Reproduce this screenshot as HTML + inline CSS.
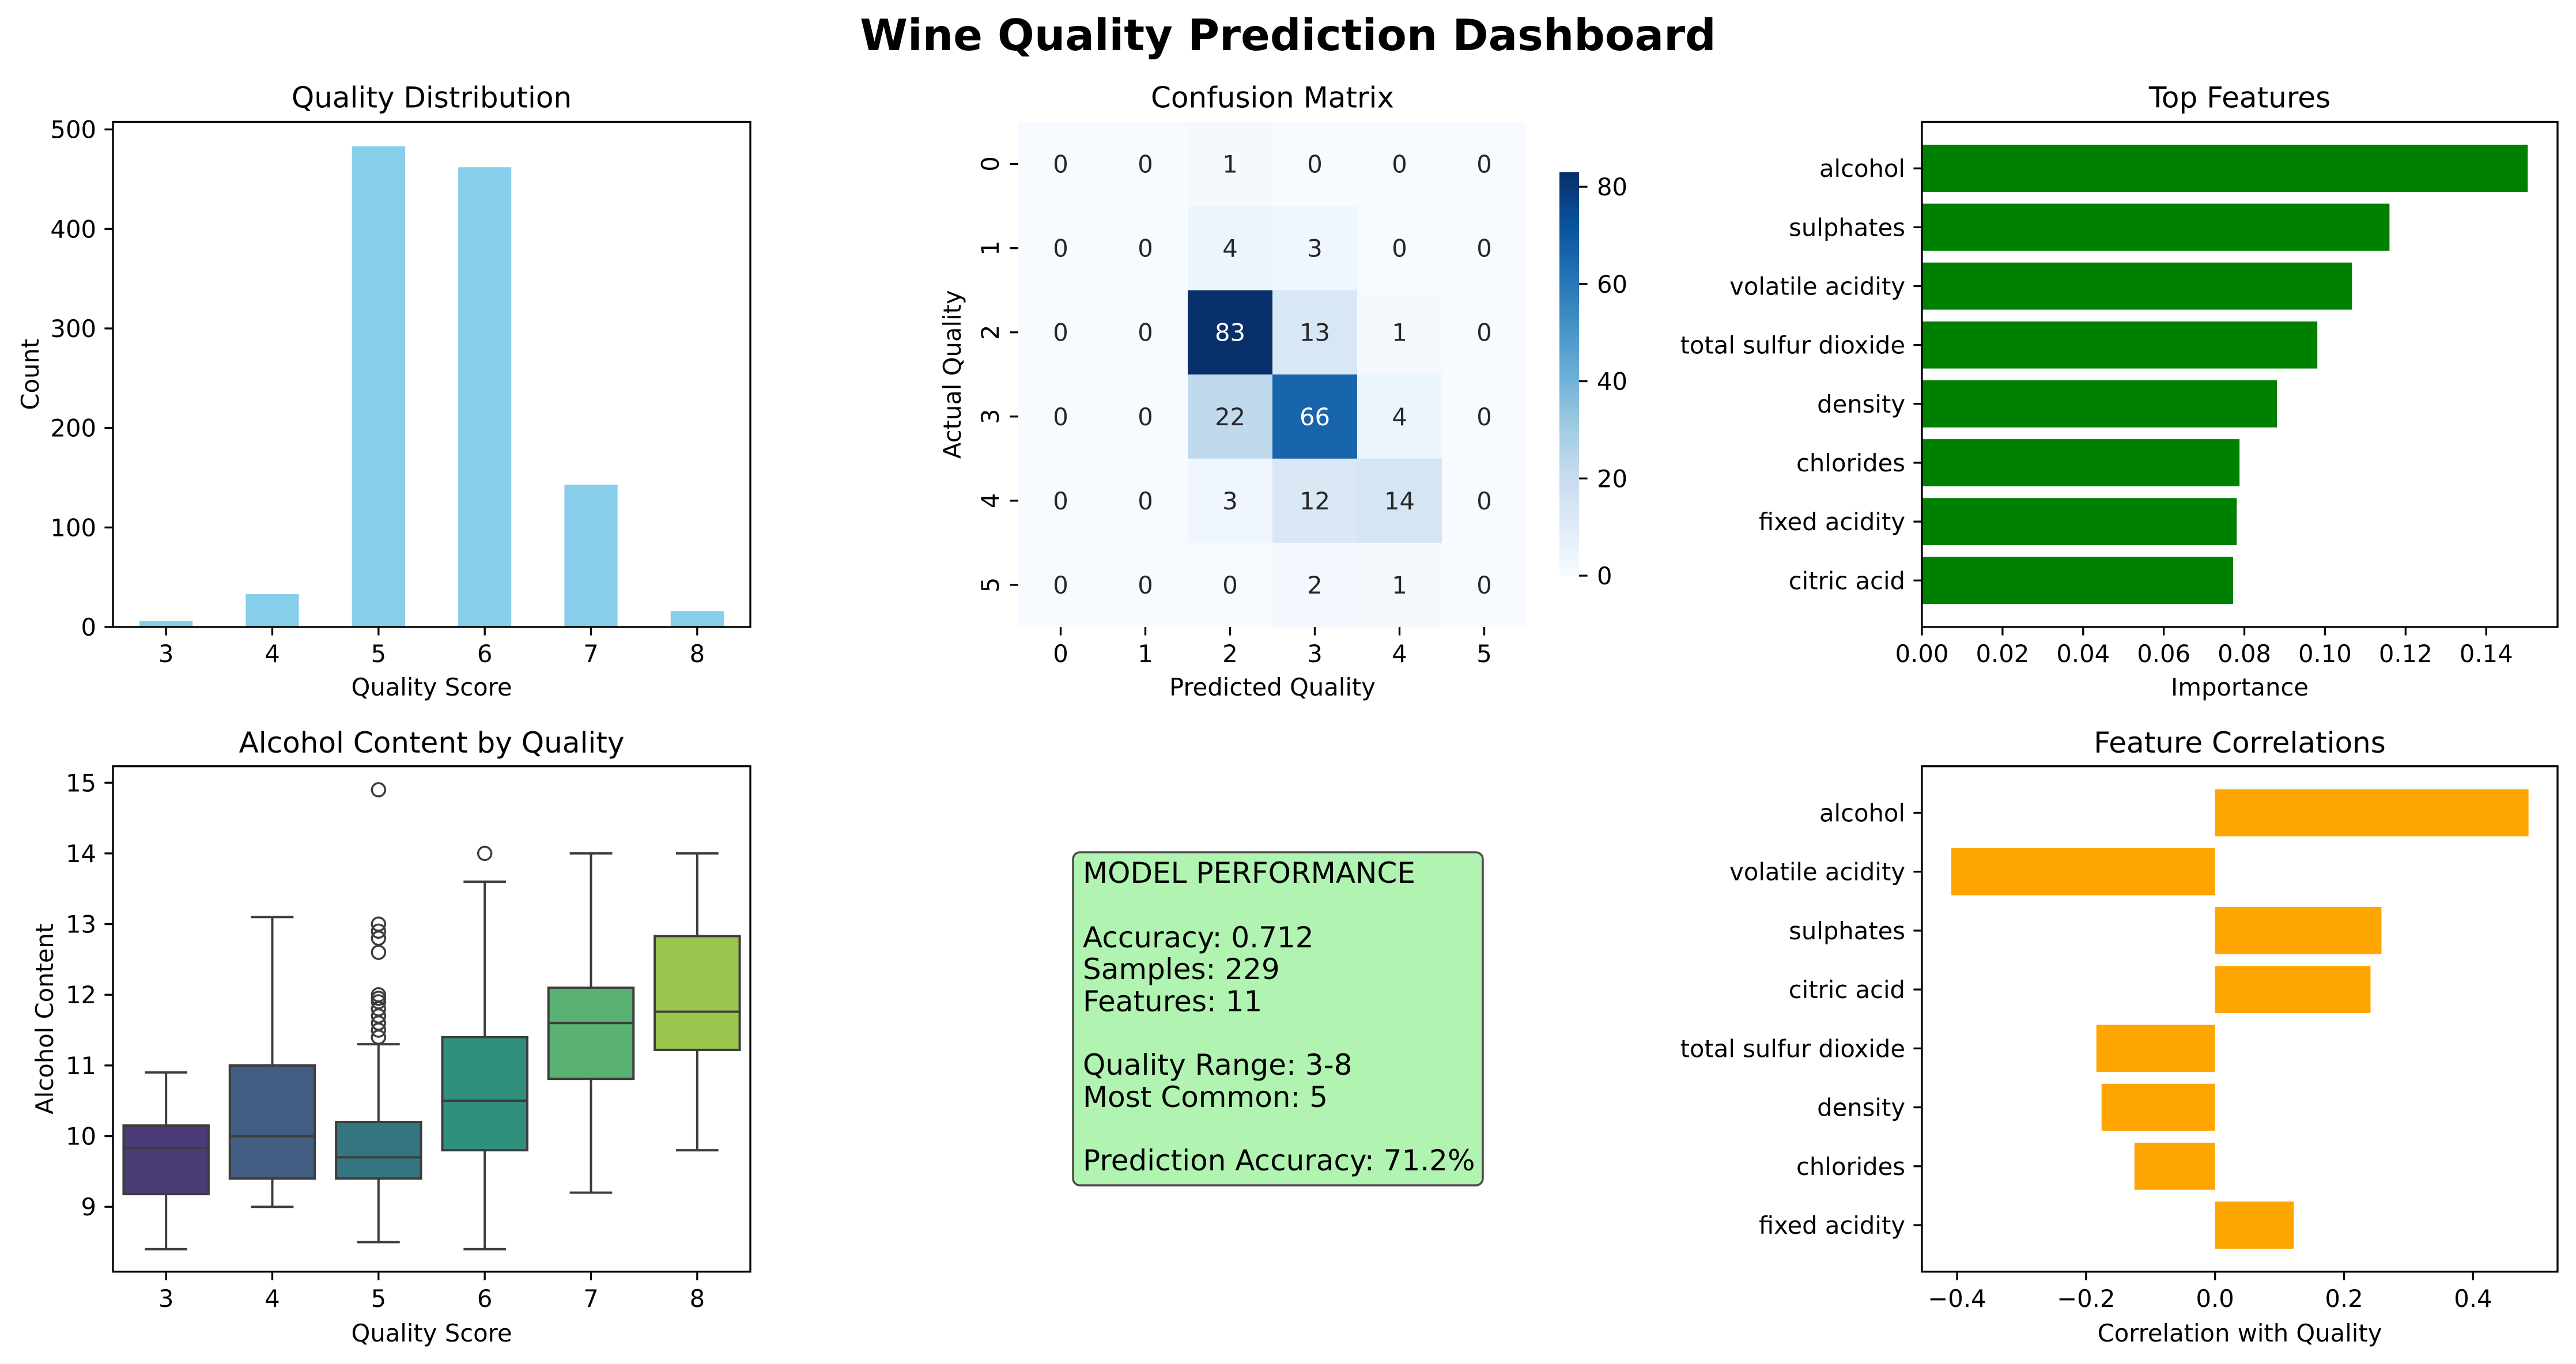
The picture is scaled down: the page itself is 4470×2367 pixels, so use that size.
<!DOCTYPE html>
<html><head><meta charset="utf-8">
<style>
html,body{margin:0;padding:0;background:#fff;}
svg{display:block;font-family:"DejaVu Sans","Liberation Sans",sans-serif;}
</style></head>
<body>
<svg id="fig" xmlns="http://www.w3.org/2000/svg" width="4470" height="2367" viewBox="0 0 4470 2367">
<rect x="0" y="0" width="4470" height="2367" fill="#ffffff"/>
<text x="2235" y="87" text-anchor="middle" font-size="75" font-weight="bold">Wine Quality Prediction Dashboard</text>
<g>
<rect x="1862" y="1479" width="711" height="578" rx="12" ry="12" fill="#b1f3b1" stroke="#4a4a4a" stroke-width="3.5"/>
<g font-size="50" fill="#000">
<text x="1879" y="1532">MODEL PERFORMANCE</text>
<text x="1879" y="1644">Accuracy: 0.712</text>
<text x="1879" y="1699">Samples: 229</text>
<text x="1879" y="1755">Features: 11</text>
<text x="1879" y="1865">Quality Range: 3-8</text>
<text x="1879" y="1921">Most Common: 5</text>
<text x="1879" y="2031">Prediction Accuracy: 71.2%</text>
</g></g>
</svg>
<script>
// ---- data ----
const qualityCategories = ['3','4','5','6','7','8'];
const qualityCounts = [6, 33, 483, 462, 143, 16];
const qualityTicks = [0,100,200,300,400,500];

const cmLabels = ['0','1','2','3','4','5'];
const cmRow0 = [0,0,1,0,0,0];
const cmRow1 = [0,0,4,3,0,0];
const cmRow2 = [0,0,83,13,1,0];
const cmRow3 = [0,0,22,66,4,0];
const cmRow4 = [0,0,3,12,14,0];
const cmRow5 = [0,0,0,2,1,0];
const cbTicks = [0,20,40,60,80];

const impFeatures = ['alcohol','sulphates','volatile acidity','total sulfur dioxide','density','chlorides','fixed acidity','citric acid'];
const impValues = [0.1503,0.1160,0.1067,0.0981,0.0881,0.0788,0.0781,0.0772];
const impTicks = [0,0.02,0.04,0.06,0.08,0.10,0.12,0.14];

const boxWhiskLow = [8.4, 9.0, 8.5, 8.4, 9.2, 9.8];
const boxQ1 = [9.18, 9.4, 9.4, 9.8, 10.81, 11.22];
const boxMedian = [9.83, 10.0, 9.7, 10.5, 11.6, 11.76];
const boxQ3 = [10.15, 11.0, 10.2, 11.4, 12.1, 12.83];
const boxWhiskHigh = [10.9, 13.1, 11.3, 13.6, 14.0, 14.0];
const outliers5 = [14.9, 13.0, 12.9, 12.8, 12.6, 12.0, 11.95, 11.9, 11.8, 11.7, 11.6, 11.5, 11.4];
const outliers6 = [14.0];
const alcTicks = [9,10,11,12,13,14,15];

const corrFeatures = ['alcohol','volatile acidity','sulphates','citric acid','total sulfur dioxide','density','chlorides','fixed acidity'];
const corrValues = [0.486,-0.409,0.258,0.241,-0.184,-0.176,-0.125,0.122];
const corrTicks = [-0.4,-0.2,0.0,0.2,0.4];

// ---- helpers ----
const NS='http://www.w3.org/2000/svg';
const svg=document.getElementById('fig');
const FS=41.7, TL=14.6, LW=3.3;
function el(tag,attrs,parent){const e=document.createElementNS(NS,tag);for(const k in attrs)e.setAttribute(k,attrs[k]);(parent||svg).appendChild(e);return e;}
function txt(x,y,s,attrs,parent){const t=el('text',Object.assign({x:x,y:y,'font-size':FS},attrs||{}),parent);t.textContent=s;return t;}
function lin(d0,d1,r0,r1){return v=>r0+(v-d0)/(d1-d0)*(r1-r0);}
function frame(g,L,T,R,B){const r=el('rect',{x:L,y:T,width:R-L,height:B-T,fill:'none',stroke:'#000','stroke-width':LW},g);}
function xtick(g,x,B,label){el('line',{x1:x,y1:B,x2:x,y2:B+TL,stroke:'#000','stroke-width':LW},g);const t=txt(x,B+61,label,{'text-anchor':'middle'},g);}
function ytick(g,y,L,label){el('line',{x1:L-TL,y1:y,x2:L,y2:y,stroke:'#000','stroke-width':LW},g);const t=txt(L-29,y+15,label,{'text-anchor':'end'},g);}
function title(g,x,y,s){const t=txt(x,y,s,{'text-anchor':'middle','font-size':50},g);}
function xlabel(g,x,y,s){const t=txt(x,y,s,{'text-anchor':'middle'},g);}
function ylabel(g,x,y,s){const t=txt(0,0,s,{'text-anchor':'middle',transform:`translate(${x},${y}) rotate(-90)`},g);}
function fmt(v,d){let s=v.toFixed(d);if(v<0)s='\u2212'+(-v).toFixed(d);return s;}

// ---- Panel 1: quality distribution ----
(function(){
const g=el('g',{});


const L=196,R=1302,T=211.5,B=1088;
const xs=lin(-0.5,5.5,L,R), ys=lin(0,507.6,B,T);
qualityCounts.forEach((v,i)=>{
 const b=el('rect',{x:xs(i-0.25),y:ys(v),width:xs(i+0.25)-xs(i-0.25),height:ys(0)-ys(v),fill:'#87ceeb'},g);
 
 
});
frame(g,L,T,R,B);
qualityCategories.forEach((c,i)=>xtick(g,xs(i),B,c));
qualityTicks.forEach(v=>ytick(g,ys(v),L,String(v)));
title(g,(L+R)/2,186.5,'Quality Distribution');
xlabel(g,(L+R)/2,1207,'Quality Score');
ylabel(g,67,(T+B)/2,'Count');
})();

// ---- Panel 2: confusion matrix ----
(function(){
const g=el('g',{});


const L=1767,R=2649,T=211.5,B=1088, vmax=83;
const rows=[cmRow0,cmRow1,cmRow2,cmRow3,cmRow4,cmRow5];
const stops=['#f7fbff','#deebf7','#c6dbef','#9ecae1','#6baed6','#4292c6','#2171b5','#08519c','#08306b'];
function hex(h){return [1,3,5].map(i=>parseInt(h.substr(i,2),16));}
function blues(t){t=Math.max(0,Math.min(1,t));const p=t*8,i=Math.min(7,Math.floor(p)),f=p-i;const a=hex(stops[i]),b=hex(stops[i+1]);return 'rgb('+a.map((c,k)=>Math.round(c+(b[k]-c)*f)).join(',')+')';}
const xs=lin(0,6,L,R), ys=lin(0,6,T,B);
rows.forEach((row,r)=>row.forEach((v,c)=>{
 const cell=el('rect',{x:xs(c),y:ys(r),width:xs(c+1)-xs(c)+0.5,height:ys(r+1)-ys(r)+0.5,fill:blues(v/vmax)},g);
 
 
}));
rows.forEach((row,r)=>row.forEach((v,c)=>{
 const t=txt(xs(c+0.5),ys(r+0.5)+15,String(v),{'text-anchor':'middle',fill:(v/vmax>0.6?'#ffffff':'#262626')},g);
 
 
}));
cmLabels.forEach((c,i)=>{
 xtick(g,xs(i+0.5),B,c);
 el('line',{x1:L-TL,y1:ys(i+0.5),x2:L,y2:ys(i+0.5),stroke:'#000','stroke-width':LW},g);
 const t=txt(0,0,c,{'text-anchor':'middle',transform:`translate(1733,${ys(i+0.5)}) rotate(-90)`},g);
 
 
});
title(g,(L+R)/2,186.5,'Confusion Matrix');
xlabel(g,(L+R)/2,1207,'Predicted Quality');
ylabel(g,1667,(T+B)/2,'Actual Quality');
// colorbar
const cb=el('g',{},g);


const cL=2706,cR=2740,cT=298.8,cB=999;
const cy=lin(0,vmax,cB,cT);
for(let k=0;k<140;k++){const v0=k/140*vmax,v1=(k+1)/140*vmax;el('rect',{x:cL,y:cy(v1),width:cR-cL,height:cy(v0)-cy(v1)+0.6,fill:blues((v0+v1)/2/vmax)},cb);}
cbTicks.forEach(v=>{el('line',{x1:cR,y1:cy(v),x2:cR+TL,y2:cy(v),stroke:'#000','stroke-width':LW},cb);const t=txt(2771,cy(v)+15,String(v),{},cb);});
})();

// ---- horizontal bar helper ----
function hbar(name,feats,vals,ticks,x0,x1,T,B,color,dec,ttl,xl,titleY,xlY){
 const g=el('g',{});
 
 
 const L=3335,R=4438;
 const xs=lin(x0,x1,L,R), ys=lin(-0.79,7.79,T,B);
 vals.forEach((v,i)=>{
  const a=Math.min(xs(0),xs(v)),w=Math.abs(xs(v)-xs(0));
  const b=el('rect',{x:a,y:ys(i-0.4),width:w,height:ys(i+0.4)-ys(i-0.4),fill:color},g);
  
  
 });
 frame(g,L,T,R,B);
 feats.forEach((f,i)=>ytick(g,ys(i),L,f));
 ticks.forEach(v=>xtick(g,xs(v),B,fmt(v,dec)));
 title(g,(L+R)/2,titleY,ttl);
 xlabel(g,(L+R)/2,xlY,xl);
}
hbar('top-features-chart',impFeatures,impValues,impTicks,0,0.1577,211.5,1088,'#008000',2,'Top Features','Importance',186.5,1207);
hbar('feature-correlations-chart',corrFeatures,corrValues,corrTicks,-0.4545,0.531,1329.7,2206.8,'#ffa500',1,'Feature Correlations','Correlation with Quality',1306,2328);

// ---- Panel 4: boxplot ----
(function(){
const g=el('g',{});


const L=196,R=1302,T=1329.7,B=2206.8;
const xs=lin(-0.5,5.5,L,R), ys=lin(8.082,15.233,B,T);
const colors=['#4b3b75','#415d82','#34767f','#2f917d','#59b273','#9ac64d'];
const lc='#3d3d3d', bw=4;
qualityCategories.forEach((c,i)=>{
 const bg=el('g',{},g);
 
 
 const cx=xs(i),hw=(xs(0.4)-xs(0)),cw=hw/2;
 el('line',{x1:cx,y1:ys(boxQ3[i]),x2:cx,y2:ys(boxWhiskHigh[i]),stroke:lc,'stroke-width':bw},bg);
 el('line',{x1:cx,y1:ys(boxQ1[i]),x2:cx,y2:ys(boxWhiskLow[i]),stroke:lc,'stroke-width':bw},bg);
 el('line',{x1:cx-cw,y1:ys(boxWhiskHigh[i]),x2:cx+cw,y2:ys(boxWhiskHigh[i]),stroke:lc,'stroke-width':bw},bg);
 el('line',{x1:cx-cw,y1:ys(boxWhiskLow[i]),x2:cx+cw,y2:ys(boxWhiskLow[i]),stroke:lc,'stroke-width':bw},bg);
 el('rect',{x:cx-hw,y:ys(boxQ3[i]),width:2*hw,height:ys(boxQ1[i])-ys(boxQ3[i]),fill:colors[i],stroke:lc,'stroke-width':bw},bg);
 el('line',{x1:cx-hw,y1:ys(boxMedian[i]),x2:cx+hw,y2:ys(boxMedian[i]),stroke:lc,'stroke-width':bw},bg);
});
[[2,outliers5],[3,outliers6]].forEach(([i,arr])=>arr.forEach(v=>{
 const o=el('circle',{cx:xs(i),cy:ys(v),r:11.5,fill:'none',stroke:lc,'stroke-width':3.5},g);
 
 
}));
frame(g,L,T,R,B);
qualityCategories.forEach((c,i)=>xtick(g,xs(i),B,c));
alcTicks.forEach(v=>ytick(g,ys(v),L,String(v)));
title(g,(L+R)/2,1306,'Alcohol Content by Quality');
xlabel(g,(L+R)/2,2328,'Quality Score');
ylabel(g,92,(T+B)/2,'Alcohol Content');
})();
</script>
</body></html>
